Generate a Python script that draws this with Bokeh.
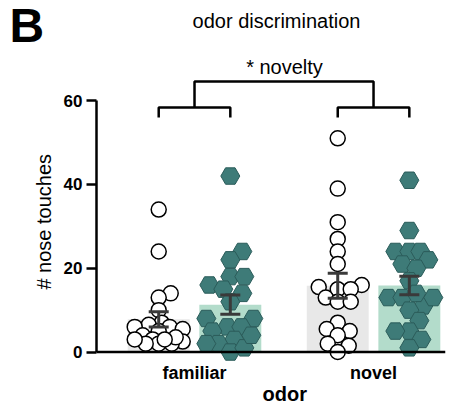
import numpy as np
from bokeh.plotting import figure
from bokeh.layouts import row
from bokeh.models import Range1d, FixedTicker, Label, Span, Title
from bokeh.embed import file_html
from bokeh.resources import INLINE

# ---------------- data ----------------
categories = ["familiar", "novel"]
familiar_circle = [34, 24, 14, 13, 10, 7, 6.5, 6, 6, 5.5, 5, 4, 3, 2.5, 2, 2, 2, 3, 3.5, 3]
familiar_hex = [42, 24, 22, 18, 18, 16, 15, 14, 12, 8, 8, 6, 6, 5, 3, 2, 0, 1, 2, 4]
novel_circle = [51, 39, 31, 27, 24, 21, 16, 15, 15, 15.5, 13, 12, 12, 7, 5.5, 5, 4, 1.5, 2, 0]
novel_hex = [41, 29, 24, 24, 24, 22, 21, 20, 17, 13, 11, 13, 13, 10, 7.5, 5, 3, 5, 1, 14]
y_ticks = [0, 20, 40, 60]

# ---------------- layout ----------------
W, H = 472, 409
LW = 55                                   # width of left strip (panel letter, y label)
FL, FR, FT, FB = 96, 445, 0, 362          # main frame edges in page pixels
XS = (0.4525, 2.402)
YS = (-2.5, 83.9)
FONT = "Liberation Sans"

def bfix(size):
    return 0.3 * size  # alphabetic-baseline correction in px

def px_x(px):
    return XS[0] + (px - FL) / (FR - FL) * (XS[1] - XS[0])

def px_y(py):
    return YS[1] - (py - FT) / (FB - FT) * (YS[1] - YS[0])

SX = (FR - FL) / (XS[1] - XS[0])
SY = (FB - FT) / (YS[1] - YS[0])

def swarm(values, center, d, maxoff):
    vals = np.asarray(values, float)
    order = np.argsort(vals)
    cands = [0]
    for k in range(1, int(maxoff) + 1):
        cands += [k, -k]
    placed = []
    offs = np.zeros(len(vals))
    for i in order:
        y = vals[i] * SY
        best, bestd = 0, -1.0
        for c in cands:
            md = min([np.hypot(c - a, y - b) for a, b in placed], default=1e9)
            if md >= d:
                best = c
                break
            if md > bestd:
                bestd, best = md, c
        offs[i] = best
        placed.append((best, y))
    return list(center + offs / SX)

# ---------------- left strip ----------------
left = figure(width=LW, height=H, output_backend="svg", toolbar_location=None,
              x_range=Range1d(0, LW), y_range=Range1d(H, 0),
              x_axis_type=None, y_axis_type=None,
              min_border=0, min_border_left=0, min_border_right=0,
              min_border_top=0, min_border_bottom=0)
left.outline_line_color = None
left.xgrid.visible = False
left.ygrid.visible = False
left.add_layout(Label(x=9, y=43 - bfix(48), text="B", text_font=FONT, text_font_size="48px",
                      text_font_style="bold", text_align="left", text_baseline="alphabetic",
                      text_color="black"))
left.add_layout(Label(x=49 - bfix(20), y=250, text="# nose touches", text_font=FONT,
                      text_font_size="20px", text_align="center", text_baseline="alphabetic",
                      text_color="black", angle=np.pi / 2))

# ---------------- main plot ----------------
p = figure(width=W - LW, height=H, output_backend="svg", toolbar_location=None,
           x_range=Range1d(*XS), y_range=Range1d(*YS),
           min_border_left=FL - LW, min_border_right=W - FR,
           min_border_top=FT, min_border_bottom=H - FB)
p.outline_line_color = None
p.xgrid.visible = False
p.ygrid.visible = False
p.background_fill_color = "white"
p.border_fill_color = "white"

# bars
off = 0.2
bar_x = [1 - off, 1 + off, 2 - off, 2 + off]
groups = [familiar_circle, familiar_hex, novel_circle, novel_hex]
means = [float(np.mean(g)) for g in groups]
sems = [float(np.std(g, ddof=1) / np.sqrt(len(g))) for g in groups]
bar_colors = ["#e8e8e8", "#b3dccb", "#e8e8e8", "#b3dccb"]
p.vbar(x=bar_x, width=0.346, top=means, bottom=0, fill_color=bar_colors, line_color=None)

# points
for g, cx in ((familiar_circle, bar_x[0]), (novel_circle, bar_x[2])):
    xs = swarm(g, cx, 12.5, 24)
    p.scatter(xs, g, marker="circle", size=15, fill_color="white",
              line_color="black", line_width=1.5)
for g, cx in ((familiar_hex, bar_x[1]), (novel_hex, bar_x[3])):
    xs = swarm(g, cx, 14, 24)
    p.scatter(xs, g, marker="hex", size=19, fill_color="#3e7b78",
              line_color="#2b5c5a", line_width=1)

# error bars (mean +/- SEM)
cap = 10 / SX
lo = [m - s for m, s in zip(means, sems)]
hi = [m + s for m, s in zip(means, sems)]
ec = "#3a3a3a"
p.segment(x0=bar_x, y0=lo, x1=bar_x, y1=hi, line_color=ec, line_width=3)
p.segment(x0=[x - cap for x in bar_x], y0=hi, x1=[x + cap for x in bar_x], y1=hi, line_color=ec, line_width=3)
p.segment(x0=[x - cap for x in bar_x], y0=lo, x1=[x + cap for x in bar_x], y1=lo, line_color=ec, line_width=3)

# x axis baseline at y = 0
p.add_layout(Span(location=0, dimension="width", line_color="black", line_width=2.5))

# significance brackets
y_top, y_mid, y_end = px_y(81), px_y(107), px_y(117)
p.multi_line(
    xs=[[1, 1, 2, 2],
        [1 - off, 1 - off, 1 + off, 1 + off],
        [2 - off, 2 - off, 2 + off, 2 + off]],
    ys=[[y_mid, y_top, y_top, y_mid],
        [y_end, y_mid, y_mid, y_end],
        [y_end, y_mid, y_mid, y_end]],
    line_color="black", line_width=2.5)

# axes
ya = p.yaxis[0]
ya.bounds = (0, 60)
ya.ticker = FixedTicker(ticks=y_ticks)
ya.major_tick_out = 10
ya.major_tick_in = 0
ya.minor_tick_line_color = None
ya.axis_line_width = 2.5
ya.major_tick_line_width = 2.5
ya.major_label_text_font = FONT
ya.major_label_text_font_style = "bold"
ya.major_label_text_font_size = "17px"
ya.major_label_text_color = "black"
ya.major_label_standoff = 4

xa = p.xaxis[0]
xa.ticker = FixedTicker(ticks=[1, 2])
xa.major_label_overrides = {1: categories[0], 2: categories[1]}
xa.major_tick_out = 0
xa.major_tick_in = 0
xa.minor_tick_line_color = None
xa.axis_line_color = None
xa.major_label_text_font = FONT
xa.major_label_text_font_style = "bold"
xa.major_label_text_font_size = "18px"
xa.major_label_text_color = "black"
xa.major_label_standoff = 0

p.add_layout(Title(text="odor", align="left", offset=262 - FL, standoff=-10,
                   text_font=FONT, text_font_size="20px", text_font_style="bold",
                   text_color="black"), "below")

def lab(text, x, y, size, bold=False, align="center"):
    p.add_layout(Label(x=x, y=y, text=text, text_font=FONT, text_font_size=f"{size}px",
                       text_font_style="bold" if bold else "normal",
                       text_align=align, text_baseline="alphabetic",
                       text_color="black"))

lab("odor discrimination", px_x(276), px_y(26 - bfix(20)), 20)
lab("* novelty", px_x(284), px_y(72.7 - bfix(20)), 20)

layout = row(left, p)
open("out.html", "w").write(file_html(layout, INLINE))
